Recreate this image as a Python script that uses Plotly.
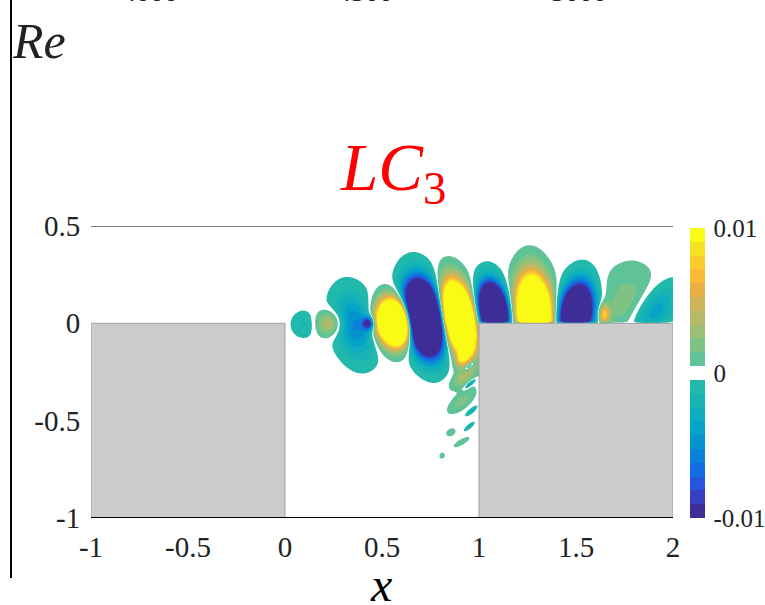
import numpy as np
import plotly.graph_objects as go

# ---------------- data ----------------
# coherent-structure lobes: centre, semi-axes (a along theta, b across), tilt, peak value
lobe_x     = [0.10, 0.23, 0.36, 0.43, 0.565, 0.715, 0.895, 1.075, 1.285, 1.50, 1.77, 1.645, 1.90]
lobe_y     = [-0.005, 0.0, -0.01, 0.0, 0.005, 0.03, 0.03, 0.06, 0.05, 0.05, 0.10, 0.045, 0.06]
lobe_a     = [0.07, 0.09, 0.25, 0.055, 0.21, 0.34, 0.32, 0.26, 0.35, 0.28, 0.22, 0.045, 0.22]
lobe_b     = [0.07, 0.10, 0.15, 0.05, 0.16, 0.17, 0.14, 0.13, 0.16, 0.15, 0.17, 0.08, 0.12]
lobe_theta = [90, 90, 104, 90, 102, 102, 102, 100, 95, 80, 80, 0, 50]
lobe_amp   = [-0.0016, 0.0045, -0.0055, -0.01, 0.04, -0.045, 0.045, -0.04, 0.035, -0.03, 0.002, 0.008, -0.0045]

# small tilted streaks inside the cavity near the downstream wall
streak_x     = [0.955, 0.95, 0.955, 0.96, 0.95, 0.93, 0.915, 0.91, 0.855, 0.91, 0.81]
streak_y     = [-0.12, -0.22, -0.31, -0.45, -0.53, -0.15, -0.28, -0.40, -0.56, -0.61, -0.68]
streak_a     = [0.045, 0.05, 0.045, 0.04, 0.035, 0.10, 0.09, 0.09, 0.025, 0.045, 0.015]
streak_b     = [0.013, 0.013, 0.013, 0.013, 0.011, 0.045, 0.045, 0.04, 0.018, 0.014, 0.013]
streak_theta = [40, 40, 40, 40, 40, 60, 40, 40, 30, 30, 60]
streak_amp   = [-0.006, -0.005, -0.004, -0.003, -0.002, 0.012, 0.003, 0.002, 0.0015, 0.0015, 0.0012]

x_ticks = [-1, -0.5, 0, 0.5, 1, 1.5, 2]
y_ticks = [-1, -0.5, 0, 0.5]
cb_ticks = [-0.01, 0, 0.01]
top_labels = ["4000", "4500", "5000"]

# ---------------- build the field ----------------
gx = np.linspace(-1.0, 2.0, 601)
gy = np.linspace(-1.0, 0.5, 301)
X, Y = np.meshgrid(gx, gy)
Z = np.zeros_like(X)
THR = 0.0005
P = 1.0

def add(cx, cy, a, b, th, amp):
    global Z
    t = np.deg2rad(th)
    u = (X - cx) * np.cos(t) + (Y - cy) * np.sin(t)
    v = -(X - cx) * np.sin(t) + (Y - cy) * np.cos(t)
    k = np.log(abs(amp) / THR) ** (1.0 / (2 * P))
    d2 = ((u / a) ** 2 + (v / b) ** 2) * k * k
    Z = Z + amp * np.exp(-d2 ** P)

for i in range(len(lobe_x)):
    add(lobe_x[i], lobe_y[i], lobe_a[i], lobe_b[i], lobe_theta[i], lobe_amp[i])
for i in range(len(streak_x)):
    add(streak_x[i], streak_y[i], streak_a[i], streak_b[i], streak_theta[i], streak_amp[i])

# no-slip wall above the downstream step and walls themselves
Z = np.where(X > 1, Z * np.tanh(np.maximum(Y, 0) / 0.008), Z)
Z = np.where((Y < 0) & ((X < 0) | (X > 1)), 0.0, Z)
Z = np.round(Z, 6)

# ---------------- colours ----------------
cols = [
    (62, 45, 150), (55, 62, 192), (38, 86, 222), (18, 110, 225), (10, 130, 215),
    (5, 148, 206), (5, 163, 200), (14, 174, 190), (24, 180, 180), (32, 185, 172),
    (255, 255, 255),
    (96, 195, 152), (126, 195, 132), (156, 191, 116), (182, 186, 104), (206, 181, 90),
    (230, 176, 70), (250, 186, 56), (250, 205, 45), (245, 226, 34), (249, 251, 20),
]
n = len(cols)
cscale = []
for i, c in enumerate(cols):
    s = "rgb(%d,%d,%d)" % c
    cscale.append([i / n, s])
    cscale.append([(i + 1) / n, s])

W, H = 765, 605

def px_x(p):
    return (p - 91) / 582

def px_y(p):
    return (518 - p) / 292

w = 0.02 / n
fig = go.Figure()
fig.add_trace(go.Contour(
    x=gx, y=gy, z=Z,
    colorscale=cscale, zmin=-0.01, zmax=0.01, zauto=False,
    contours=dict(start=-0.01 + w, end=0.01 - w, size=w, coloring="fill"),
    line=dict(width=0),
    colorbar=dict(
        x=px_x(690), xanchor="left", xpad=0, ypad=0, thickness=15,
        y=px_y(518), yanchor="bottom", len=290 / 292, lenmode="fraction", outlinewidth=0,
        tickvals=cb_ticks, ticktext=["-0.01", "0", "0.01"], ticks="outside", ticklen=4,
        tickcolor="rgba(0,0,0,0)",
        tickfont=dict(family="Liberation Serif", size=25, color="#222"),
    ),
    hoverinfo="skip",
))

# walls
for x0, x1 in [(-1, 0), (1, 2)]:
    fig.add_shape(type="rect", xref="x", yref="y", x0=x0, x1=x1, y0=-1, y1=0,
                  fillcolor="rgb(204,204,204)", line=dict(color="rgb(160,160,160)", width=1),
                  layer="above")
fig.add_shape(type="line", xref="x", yref="y", x0=-1, x1=2, y0=0.5, y1=0.5,
              line=dict(color="black", width=1.2), layer="above")
fig.add_shape(type="line", xref="x", yref="y", x0=-1, x1=2, y0=-1, y1=-1,
              line=dict(color="black", width=2), layer="above")
# left border of outer figure
fig.add_shape(type="line", xref="paper", yref="paper", x0=px_x(11), x1=px_x(11),
              y0=px_y(578), y1=px_y(-5),
              line=dict(color="black", width=2))

fig.add_annotation(xref="paper", yref="paper", x=px_x(393), y=px_y(172), xanchor="center", yanchor="middle",
                   text="<i>LC</i><sub>3</sub>", showarrow=False,
                   font=dict(family="Liberation Serif", size=67, color="red"))
fig.add_annotation(xref="paper", yref="paper", x=px_x(381), y=px_y(584), xanchor="center", yanchor="middle",
                   text="<i>x</i>", showarrow=False,
                   font=dict(family="Liberation Serif", size=48, color="black"))
fig.add_annotation(xref="paper", yref="paper", x=px_x(10), y=px_y(41), xanchor="left", yanchor="middle",
                   text="<i>Re</i>", showarrow=False,
                   font=dict(family="Liberation Serif", size=50, color="#222"))
for p, lab in zip([150, 365, 579], top_labels):
    fig.add_annotation(xref="paper", yref="paper", x=px_x(p), y=px_y(8.7), xanchor="center",
                       yanchor="bottom", text=lab, showarrow=False,
                       font=dict(family="Liberation Serif", size=28, color="#222"))

fig.update_xaxes(range=[-1, 2], tickvals=x_ticks, ticktext=["-1", "-0.5", "0", "0.5", "1", "1.5", "2"],
                 showgrid=False, zeroline=False, showline=False, ticks="outside", ticklen=3,
                 tickcolor="rgba(0,0,0,0)",
                 tickfont=dict(family="Liberation Serif", size=29, color="#222"))
fig.update_yaxes(range=[-1, 0.5], tickvals=y_ticks, ticktext=["-1", "-0.5", "0", "0.5"],
                 showgrid=False, zeroline=False, showline=False, ticks="outside", ticklen=4,
                 tickcolor="rgba(0,0,0,0)",
                 tickfont=dict(family="Liberation Serif", size=29, color="#222"))
fig.update_layout(width=W, height=H, margin=dict(l=91, r=92, t=226, b=87, autoexpand=False),
                  paper_bgcolor="white", plot_bgcolor="white", showlegend=False)
fig.write_html("out.html", config={"displayModeBar": False},
               post_script="document.body.style.margin='0px';")
